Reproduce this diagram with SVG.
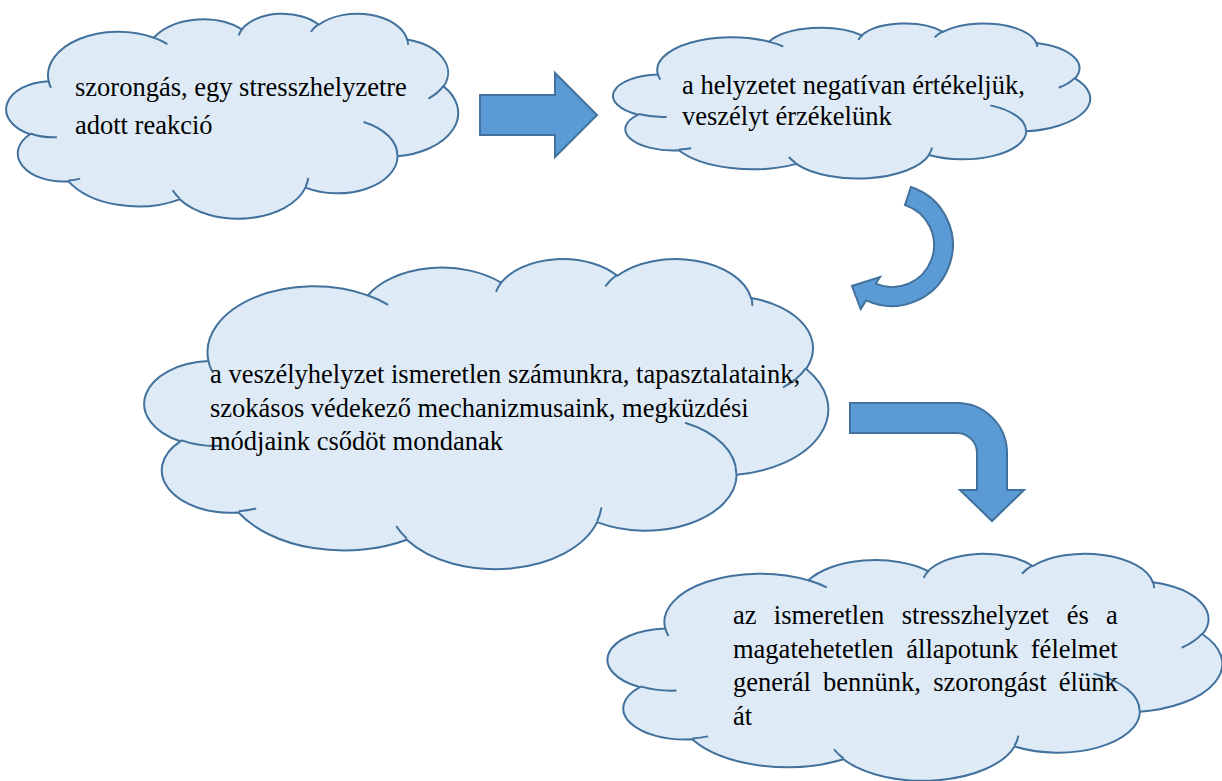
<svg xmlns="http://www.w3.org/2000/svg" width="1222" height="781" viewBox="0 0 1222 781">
<defs>
<style>
.cl{fill:#DEEBF7;stroke:#41719C;stroke-width:2;vector-effect:non-scaling-stroke}
.ci{fill:none;stroke:#41719C;stroke-width:2;vector-effect:non-scaling-stroke}
.ar{fill:#5B9BD5;stroke:#41719C;stroke-width:2;stroke-linejoin:miter}
text{font-family:"Liberation Serif","Times New Roman",serif;font-size:26.5px;fill:#000}
</style>
</defs>
<rect width="1222" height="781" fill="#fff"/>
<g id="cloud1">
<g transform="translate(8 13) scale(0.0104167 0.0047454)">
<path class="cl" d="M3900 14370A6753 9190 0 0 1 14005 5202A5333 7267 0 0 1 22457 3432A4365 5945 0 0 1 29833 2479A4857 6595 0 0 1 38319 5574A5333 7273 0 0 1 41819 15458A6775 9220 0 0 1 37404 30199A5785 7867 0 0 1 28555 36810A6752 9215 0 0 1 16480 39262A7720 10543 0 0 1 5805 35467A4360 5918 0 0 1 2114 25545A4345 5945 0 0 1 3900 14370Z"/>
<path class="ci" d="M4693 26177A4345 5945 0 0 1 2160 25380M6928 34899A4360 5918 0 0 1 5819 35281M16478 39090A6752 9215 0 0 1 15810 37349M28827 34751A6752 9215 0 0 1 28560 36660M34129 22954A5785 7867 0 0 1 37381 30090M41798 15354A5333 7273 0 0 1 40350 18030M38324 5426A4857 6595 0 0 1 38400 6690M29078 3952A4857 6595 0 0 1 29819 2341M22141 4720A4365 5945 0 0 1 22500 3330M14000 5192A6753 9190 0 0 1 15300 6541M4127 15789A6753 9190 0 0 1 3900 14371"/>
</g>
<text x="75" y="96">szorongás, egy stresszhelyzetre</text>
<text x="75" y="134">adott reakció</text>
</g>
<g id="cloud2">
<g transform="translate(615 23) scale(0.0109954 0.003588)">
<path class="cl" d="M3900 14370A6753 9190 0 0 1 14005 5202A5333 7267 0 0 1 22457 3432A4365 5945 0 0 1 29833 2479A4857 6595 0 0 1 38319 5574A5333 7273 0 0 1 41819 15458A6775 9220 0 0 1 37404 30199A5785 7867 0 0 1 28555 36810A6752 9215 0 0 1 16480 39262A7720 10543 0 0 1 5805 35467A4360 5918 0 0 1 2114 25545A4345 5945 0 0 1 3900 14370Z"/>
<path class="ci" d="M4693 26177A4345 5945 0 0 1 2160 25380M6928 34899A4360 5918 0 0 1 5819 35281M16478 39090A6752 9215 0 0 1 15810 37349M28827 34751A6752 9215 0 0 1 28560 36660M34129 22954A5785 7867 0 0 1 37381 30090M41798 15354A5333 7273 0 0 1 40350 18030M38324 5426A4857 6595 0 0 1 38400 6690M29078 3952A4857 6595 0 0 1 29819 2341M22141 4720A4365 5945 0 0 1 22500 3330M14000 5192A6753 9190 0 0 1 15300 6541M4127 15789A6753 9190 0 0 1 3900 14371"/>
</g>
<text x="682" y="94">a helyzetet negatívan értékeljük,</text>
<text x="682" y="125">veszélyt érzékelünk</text>
</g>
<g id="cloud3">
<g transform="translate(147 258) scale(0.0157639 0.0071759)">
<path class="cl" d="M3900 14370A6753 9190 0 0 1 14005 5202A5333 7267 0 0 1 22457 3432A4365 5945 0 0 1 29833 2479A4857 6595 0 0 1 38319 5574A5333 7273 0 0 1 41819 15458A6775 9220 0 0 1 37404 30199A5785 7867 0 0 1 28555 36810A6752 9215 0 0 1 16480 39262A7720 10543 0 0 1 5805 35467A4360 5918 0 0 1 2114 25545A4345 5945 0 0 1 3900 14370Z"/>
<path class="ci" d="M4693 26177A4345 5945 0 0 1 2160 25380M6928 34899A4360 5918 0 0 1 5819 35281M16478 39090A6752 9215 0 0 1 15810 37349M28827 34751A6752 9215 0 0 1 28560 36660M34129 22954A5785 7867 0 0 1 37381 30090M41798 15354A5333 7273 0 0 1 40350 18030M38324 5426A4857 6595 0 0 1 38400 6690M29078 3952A4857 6595 0 0 1 29819 2341M22141 4720A4365 5945 0 0 1 22500 3330M14000 5192A6753 9190 0 0 1 15300 6541M4127 15789A6753 9190 0 0 1 3900 14371"/>
</g>
<text x="210" y="383">a veszélyhelyzet ismeretlen számunkra, tapasztalataink,</text>
<text x="210" y="416.5">szokásos védekező mechanizmusaink, megküzdési</text>
<text x="210" y="450">módjaink csődöt mondanak</text>
</g>
<g id="cloud4">
<g transform="translate(610 553) scale(0.0141667 0.0052546)">
<path class="cl" d="M3900 14370A6753 9190 0 0 1 14005 5202A5333 7267 0 0 1 22457 3432A4365 5945 0 0 1 29833 2479A4857 6595 0 0 1 38319 5574A5333 7273 0 0 1 41819 15458A6775 9220 0 0 1 37404 30199A5785 7867 0 0 1 28555 36810A6752 9215 0 0 1 16480 39262A7720 10543 0 0 1 5805 35467A4360 5918 0 0 1 2114 25545A4345 5945 0 0 1 3900 14370Z"/>
<path class="ci" d="M4693 26177A4345 5945 0 0 1 2160 25380M6928 34899A4360 5918 0 0 1 5819 35281M16478 39090A6752 9215 0 0 1 15810 37349M28827 34751A6752 9215 0 0 1 28560 36660M34129 22954A5785 7867 0 0 1 37381 30090M41798 15354A5333 7273 0 0 1 40350 18030M38324 5426A4857 6595 0 0 1 38400 6690M29078 3952A4857 6595 0 0 1 29819 2341M22141 4720A4365 5945 0 0 1 22500 3330M14000 5192A6753 9190 0 0 1 15300 6541M4127 15789A6753 9190 0 0 1 3900 14371"/>
</g>
<text y="624"><tspan x="733">az</tspan><tspan x="773.8">ismeretlen</tspan><tspan x="901.8">stresszhelyzet</tspan><tspan x="1066.7">és</tspan><tspan x="1106.1">a</tspan></text>
<text y="657.5"><tspan x="733">magatehetetlen</tspan><tspan x="906.3">állapotunk</tspan><tspan x="1030.8">félelmet</tspan></text>
<text y="691"><tspan x="733">generál</tspan><tspan x="823.1">bennünk,</tspan><tspan x="933.2">szorongást</tspan><tspan x="1058.8">élünk</tspan></text>
<text x="733" y="724.5">át</text>
</g>
<g id="connectors">
<path id="arrow1" class="ar" d="M480 95L555 95L555 73L597 115L555 157L555 135L480 135Z"/>
<path id="arrow2" class="ar" d="M910.9 187A61 61 0 1 1 866.2 300.3L860.7 309L852 286L880 277L875.6 283.7A42 42 0 1 0 905 205.1Z"/>
<path id="arrow3" class="ar" d="M850 403L957 403A50 50 0 0 1 1007 453L1007 490L1024 490L992 521L960 490L977 490L977 453A20 20 0 0 0 957 433L850 433Z"/>
</g>
</svg>
